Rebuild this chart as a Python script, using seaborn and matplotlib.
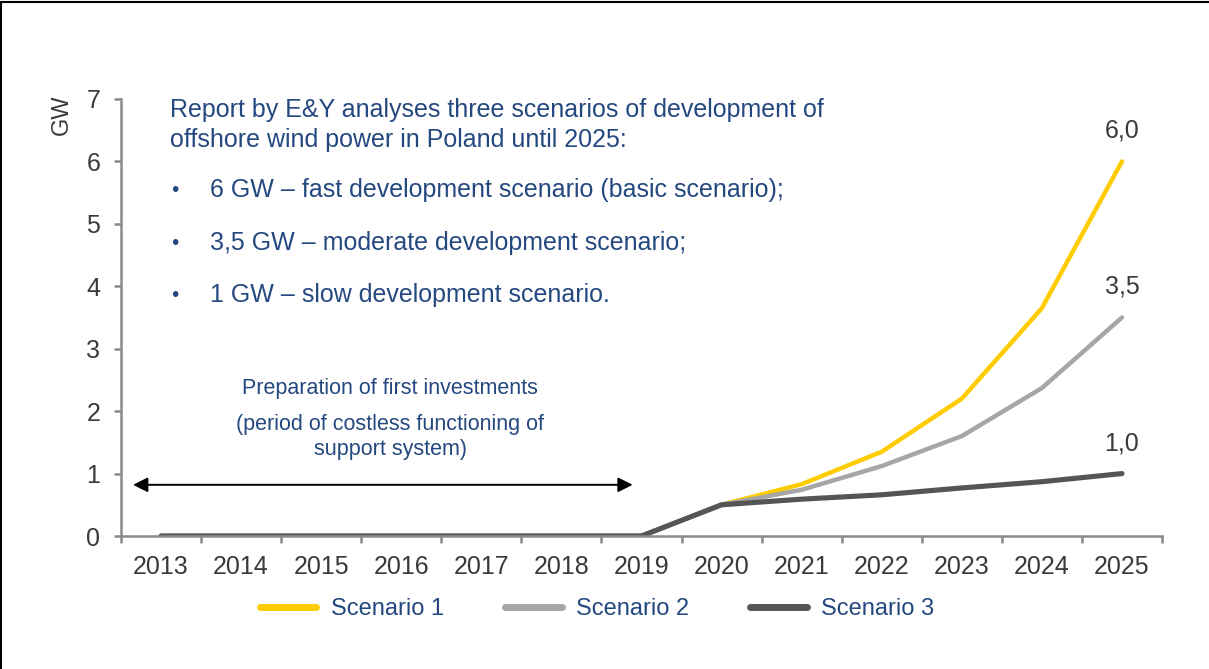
import matplotlib
matplotlib.use("Agg")
import matplotlib.pyplot as plt
from matplotlib.lines import Line2D
from matplotlib.ticker import FixedLocator
import numpy as np
import pandas as pd
import seaborn as sns

# Installed offshore wind capacity in Poland (GW) under three E&Y scenarios
years = [2013, 2014, 2015, 2016, 2017, 2018, 2019, 2020, 2021, 2022, 2023, 2024, 2025]
scenario_1 = [0, 0, 0, 0, 0, 0, 0, 0.5, 0.83, 1.35, 2.2, 3.65, 6.0]
scenario_2 = [0, 0, 0, 0, 0, 0, 0, 0.5, 0.74, 1.12, 1.6, 2.37, 3.5]
scenario_3 = [0, 0, 0, 0, 0, 0, 0, 0.5, 0.59, 0.66, 0.77, 0.87, 1.0]
series_names = ["Scenario 1", "Scenario 2", "Scenario 3"]
end_labels = ["6,0", "3,5", "1,0"]
y_ticks = [0, 1, 2, 3, 4, 5, 6, 7]

intro_lines = [
    "Report by E&Y analyses three scenarios of development of",
    "offshore wind power in Poland until 2025:",
]
bullets = [
    "6 GW – fast development scenario (basic scenario);",
    "3,5 GW – moderate development scenario;",
    "1 GW – slow development scenario.",
]
period_lines = [
    "Preparation of first investments",
    "(period of costless functioning of",
    "support system)",
]

NAVY = "#24487f"
TICK_TXT = "#3a3a3a"
AXIS_GREY = "#8a8a8a"
palette = {"Scenario 1": "#ffcc00", "Scenario 2": "#a6a6a6", "Scenario 3": "#555555"}
widths = {"Scenario 1": 3.2, "Scenario 2": 3.2, "Scenario 3": 3.7}

sns.set_style("white")
plt.rcParams["font.family"] = ["Liberation Sans", "DejaVu Sans"]

W, H = 1209, 669
fig = plt.figure(figsize=(W / 100, H / 100), dpi=100)


def fx(px):
    return px / W


def fy(py):
    return 1 - py / H


ax = fig.add_axes([fx(121), fy(536), fx(1162) - fx(121), fy(99) - fy(536)])

df = pd.DataFrame({
    "year": years * 3,
    "GW": scenario_1 + scenario_2 + scenario_3,
    "scenario": [n for n in series_names for _ in years],
})

for name in series_names:
    sub = df[df["scenario"] == name]
    sns.lineplot(data=sub, x="year", y="GW", color=palette[name], lw=widths[name],
                 ax=ax, solid_capstyle="round", solid_joinstyle="round",
                 legend=False)

ax.set_xlim(years[0] - 0.5, years[-1] + 0.5)
ax.set_ylim(0, 7)

# spines
for s in ["top", "right"]:
    ax.spines[s].set_visible(False)
for s in ["left", "bottom"]:
    ax.spines[s].set_color(AXIS_GREY)
    ax.spines[s].set_linewidth(1.8)

ax.set_yticks(y_ticks)
ax.set_yticklabels([str(t) for t in y_ticks])
ax.set_xticks(years)
ax.set_xticklabels([str(y) for y in years])
ax.xaxis.set_minor_locator(FixedLocator([y - 0.5 for y in years] + [years[-1] + 0.5]))
ax.tick_params(axis="x", which="major", bottom=True, length=0, pad=14, labelsize=18,
               labelcolor=TICK_TXT)
ax.tick_params(axis="x", which="minor", bottom=True, length=5, width=1.8,
               color=AXIS_GREY, direction="out")
ax.tick_params(axis="y", which="major", left=True, length=5, width=1.8, color=AXIS_GREY,
               direction="out", pad=10, labelsize=18, labelcolor=TICK_TXT)
ax.set_xlabel("")
ax.set_ylabel("")
ax.grid(False)

fig.text(fx(62), fy(115), "GW", rotation=90, fontsize=17, color=TICK_TXT,
         ha="center", va="center")

# value labels at line ends
for vals, lab in zip([scenario_1, scenario_2, scenario_3], end_labels):
    ax.annotate(lab, xy=(years[-1], vals[-1]), xytext=(0, 22), textcoords="offset points",
                ha="center", va="center", fontsize=18, color=TICK_TXT)

# double-headed arrow spanning the preparation period
ax.annotate("", xy=(2012.65, 0.82), xytext=(2018.89, 0.82),
            arrowprops=dict(arrowstyle="<|-|>", color="black", lw=1.4,
                            mutation_scale=22, shrinkA=0, shrinkB=0))

# descriptive text
fig.text(fx(170), fy(117), intro_lines[0], fontsize=18, color=NAVY, va="baseline")
fig.text(fx(170), fy(147), intro_lines[1], fontsize=18, color=NAVY, va="baseline")
for yb, txt in zip([197, 250, 302], bullets):
    fig.text(fx(171), fy(yb - 1), "•", fontsize=15, color=NAVY, va="baseline")
    fig.text(fx(210), fy(yb), txt, fontsize=18, color=NAVY, va="baseline")

for yb, txt in zip([394, 430, 455], period_lines):
    fig.text(fx(390), fy(yb), txt, fontsize=15.5, color=NAVY, va="baseline", ha="center")

# legend
handles = [Line2D([0], [0], color=palette[n], lw=5, solid_capstyle="round") for n in series_names]
leg = fig.legend(handles, series_names, loc="center", bbox_to_anchor=(fx(597), fy(609)),
                 ncol=3, frameon=False, fontsize=17, handlelength=2.4,
                 handletextpad=0.6, columnspacing=2.6)
for t in leg.get_texts():
    t.set_color(NAVY)

# frame lines on the top and left edges
fig.add_artist(Line2D([fx(1), fx(1)], [0, fy(2)], color="black", lw=1.5))
fig.add_artist(Line2D([0, 1], [fy(2), fy(2)], color="black", lw=1.5))

fig.savefig("out.png", dpi=100)
